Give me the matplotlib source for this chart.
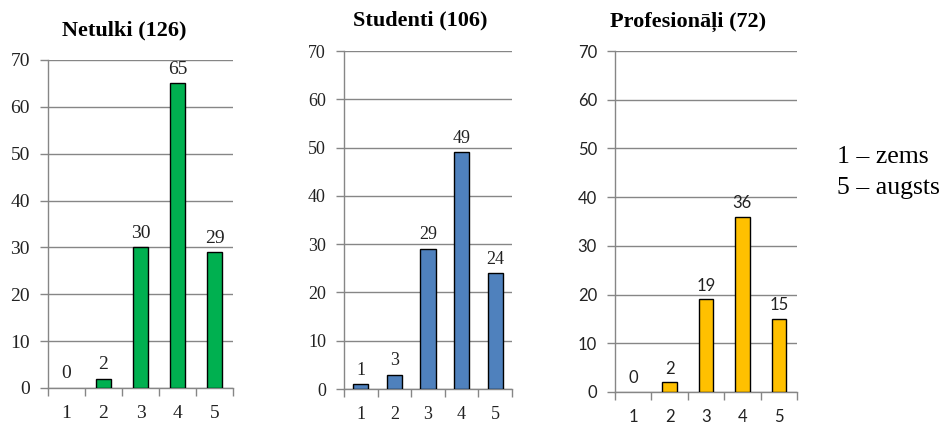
import matplotlib.pyplot as plt
from matplotlib.ticker import FixedLocator

# vērtējumi 1..5
categories = [1, 2, 3, 4, 5]
netulki = [0, 2, 30, 65, 29]
studenti = [1, 3, 29, 49, 24]
profesionali = [0, 2, 19, 36, 15]

titles = ["Netulki (126)", "Studenti (106)", "Profesionāļi (72)"]
colors = ["#00B050", "#4F81BD", "#FFC000"]
yticks = [0, 10, 20, 30, 40, 50, 60, 70]

# axes rectangles in figure fractions (left, bottom, width, height)
rects = [
    (48 / 943, 36 / 424, 185 / 943, 328 / 424),
    (344 / 943, 35 / 424, 168 / 943, 338 / 424),
    (615 / 943, 32 / 424, 182 / 943, 341 / 424),
]
title_pos = [(124.5, 30), (420, 20), (688.5, 22)]
label_fonts = ["Liberation Serif", "Liberation Serif", "Lato"]
label_sizes = [14, 13, 12]
bar_w = [0.41, 0.45, 0.4]

fig = plt.figure(figsize=(9.43, 4.24), dpi=100)
grey = "#868686"

for i, vals in enumerate([netulki, studenti, profesionali]):
    ax = fig.add_axes(rects[i])
    edges = ["black" if v > 0 else "none" for v in vals]
    ax.bar(categories, vals, width=bar_w[i], color=colors[i],
           edgecolor=edges, linewidth=1.0, zorder=3)
    ax.set_xlim(0.5, 5.5)
    ax.set_ylim(0, 70)
    ax.set_yticks(yticks)
    ax.set_xticks(categories)
    ax.xaxis.set_minor_locator(FixedLocator([0.5, 1.5, 2.5, 3.5, 4.5, 5.5]))
    ax.tick_params(axis="x", which="major", length=0, pad=12)
    ax.tick_params(axis="x", which="minor", length=6, color=grey, width=1)
    ax.tick_params(axis="y", length=6, color=grey, width=1, pad=7)
    for lab in ax.get_xticklabels() + ax.get_yticklabels():
        lab.set_fontfamily(label_fonts[i])
        lab.set_fontsize(label_sizes[i])
        lab.set_color("#222222")
    ax.grid(axis="y", color=grey, linewidth=1, zorder=0)
    for s in ["top", "right"]:
        ax.spines[s].set_visible(False)
    for s in ["left", "bottom"]:
        ax.spines[s].set_color(grey)
        ax.spines[s].set_linewidth(1)
    for x, v in zip(categories, vals):
        ax.annotate(str(v), (x, v), xytext=(0, 4), textcoords="offset points",
                    ha="center", va="bottom", fontsize=label_sizes[i],
                    family=label_fonts[i], color="#222222")
    tx, ty = title_pos[i]
    fig.text(tx / 943, 1 - ty / 424, titles[i], ha="center", va="center",
             fontsize=16, fontweight="bold", family="Liberation Serif")

fig.text(837 / 943, 1 - 157 / 424, "1 – zems", ha="left", va="center",
         fontsize=18.5, family="Liberation Serif")
fig.text(837 / 943, 1 - 188 / 424, "5 – augsts", ha="left", va="center",
         fontsize=18.5, family="Liberation Serif")

fig.savefig("out.png", dpi=100)
